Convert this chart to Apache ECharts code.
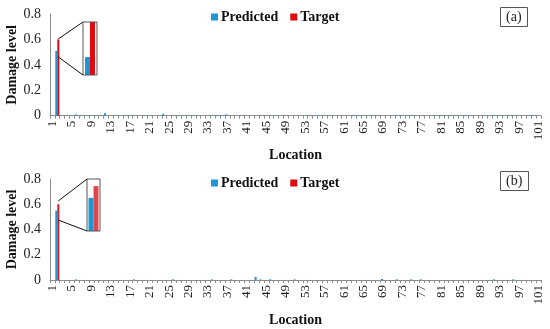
<!DOCTYPE html>
<html><head><meta charset="utf-8">
<script src="https://cdn.jsdelivr.net/npm/echarts@6/dist/echarts.min.js"></script>
<style>html,body{margin:0;padding:0;background:#fff}#c{width:550px;height:329px}</style>
</head><body><div id="c"></div>
<script>
const locations = [];
for (let i = 1; i <= 101; i++) locations.push(String(i));

const predictedA = [
 0,0.51,0.005,0,0.005,0.01,0.005,0,0.005,0.005,
 0.005,0.02,0,0.005,0,0.005,0.005,0,0,0.005,
 0,0,0,0.015,0,0,0.005,0,0.005,0,
 0.005,0,0,0.005,0.005,0.005,0.01,0,0,0,
 0,0,0,0,0.005,0,0.005,0,0,0,
 0,0,0,0.005,0,0.005,0.005,0,0.005,0,
 0,0,0.005,0.005,0.005,0,0.005,0,0,0,
 0.005,0.005,0.005,0.005,0.005,0.005,0,0,0,0.005,
 0.005,0.005,0.005,0,0.005,0.005,0.005,0,0,0.005,
 0,0.005,0.005,0.005,0.005,0.005,0,0,0.005,0.005,
 0];
const targetA = [
 0,0.60,0,0,0,0,0,0,0,0,
 0,0,0,0,0,0,0,0,0,0,
 0,0,0,0,0,0,0,0,0,0,
 0,0,0,0,0,0,0,0,0,0,
 0,0,0,0,0,0,0,0,0,0,
 0,0,0,0,0,0,0,0,0,0,
 0,0,0,0,0,0,0,0,0,0,
 0,0,0,0,0,0,0,0,0,0,
 0,0,0,0,0,0,0,0,0,0,
 0,0,0,0,0,0,0,0,0,0,
 0];
const predictedB = [
 0,0.55,0,0,0,0.005,0,0,0,0,
 0,0,0,0,0,0,0,0.005,0,0,
 0,0,0,0,0,0.005,0,0,0,0,
 0,0,0,0.005,0,0,0,0.005,0,0,
 0,0,0.025,0.005,0,0.005,0,0,0,0,
 0.005,0,0,0,0,0,0,0,0,0,
 0,0,0,0,0,0,0,0,0.008,0,
 0,0.005,0,0,0.005,0,0.005,0,0,0,
 0,0,0,0,0,0,0,0,0,0,
 0,0.005,0,0,0,0.005,0,0,0,0,
 0];
const targetB = [
 0,0.60,0,0,0,0,0,0,0,0,
 0,0,0,0,0,0,0,0,0,0,
 0,0,0,0,0,0,0,0,0,0,
 0,0,0,0,0,0,0,0,0,0,
 0,0,0,0,0,0,0,0,0,0,
 0,0,0,0,0,0,0,0,0,0,
 0,0,0,0,0,0,0,0,0,0,
 0,0,0,0,0,0,0,0,0,0,
 0,0,0,0,0,0,0,0,0,0,
 0,0,0,0,0,0,0,0,0,0,
 0];
const yTicks = [0, 0.2, 0.4, 0.6, 0.8];
const panelLabels = ['(a)', '(b)'];
const zoomLoc = '2';
const insetRangeA = [0.464, 0.60];
const insetRangeB = [0.41, 0.63];
const zoomLinesA = [0.462, 0.604];
const zoomLinesB = [0.475, 0.626];

const BLUE = '#1e96d4', RED = '#e3070f';
const FONT = 'Liberation Serif';
const AX = '#8c8c8c';

function mainX(gi) {
  return {
    type: 'category', gridIndex: gi, data: locations, boundaryGap: true,
    axisLine: {lineStyle: {color: AX}},
    axisTick: {show: true, interval: 0, length: 3, lineStyle: {color: AX}},
    axisLabel: {interval: 3, rotate: 90, fontFamily: FONT, fontSize: 13, color: '#222', margin: 5},
    name: 'Location', nameLocation: 'middle', nameGap: 33, nameMoveOverlap: false,
    nameTextStyle: {fontFamily: FONT, fontSize: 14, fontWeight: 'bold', color: '#111'}
  };
}
function mainY(gi) {
  return {
    type: 'value', gridIndex: gi, min: yTicks[0], max: yTicks[yTicks.length-1], interval: 0.2,
    splitLine: {show: false},
    axisLine: {show: true, lineStyle: {color: AX}},
    axisTick: {show: false},
    axisLabel: {fontFamily: FONT, fontSize: 14, color: '#222', margin: 9,
      formatter: v => String(Math.round(v*10)/10)},
    name: 'Damage level', nameLocation: 'middle', nameGap: 31, nameMoveOverlap: false,
    nameTextStyle: {fontFamily: FONT, fontSize: 14, fontWeight: 'bold', color: '#111'}
  };
}
function insetX(gi) {
  return {type: 'category', gridIndex: gi, data: [zoomLoc], show: false};
}
function insetY(gi, r) {
  return {type: 'value', gridIndex: gi, min: r[0], max: r[1], show: false, splitLine: {show: false}};
}
const idx = locations.indexOf(zoomLoc);

const chart = echarts.init(document.getElementById('c'), null, {renderer: 'canvas'});
const option = {
  animation: false,
  backgroundColor: '#fff',
  title: [
    {text: panelLabels[0], left: 500, top: 7, padding: [3, 6, 3, 6], borderColor: '#555', borderWidth: 1,
     textStyle: {fontFamily: FONT, fontSize: 14, fontWeight: 'normal', color: '#222'}},
    {text: panelLabels[1], left: 500, top: 171, padding: [3, 6, 3, 6], borderColor: '#555', borderWidth: 1,
     textStyle: {fontFamily: FONT, fontSize: 14, fontWeight: 'normal', color: '#222'}}
  ],
  legend: [
    {data: ['Predicted', 'Target'], left: 209, top: 8, padding: 2, icon: 'rect', itemWidth: 7, itemHeight: 7, itemGap: 12,
     textStyle: {fontFamily: FONT, fontSize: 14, fontWeight: 'bold', color: '#111', padding: [0,0,0,-2]}},
    {data: ['Predicted', 'Target'], left: 209, top: 174, padding: 2, icon: 'rect', itemWidth: 7, itemHeight: 7, itemGap: 12,
     textStyle: {fontFamily: FONT, fontSize: 14, fontWeight: 'bold', color: '#111', padding: [0,0,0,-2]}}
  ],
  grid: [
    {left: 50, right: 9, top: 14, height: 101.7, outerBoundsMode: 'none', containLabel: false},
    {left: 83, top: 22, width: 14, height: 53, show: true, borderColor: '#555', borderWidth: 1, backgroundColor: 'transparent', z: 5, outerBoundsMode: 'none', containLabel: false},
    {left: 50, right: 9, top: 179, height: 101, outerBoundsMode: 'none', containLabel: false},
    {left: 87, top: 179, width: 13, height: 52, show: true, borderColor: '#555', borderWidth: 1, backgroundColor: 'transparent', z: 5, outerBoundsMode: 'none', containLabel: false}
  ],
  xAxis: [mainX(0), insetX(1), mainX(2), insetX(3)],
  yAxis: [mainY(0), insetY(1, insetRangeA), mainY(2), insetY(3, insetRangeB)],
  series: [
    {name: 'Predicted', type: 'bar', xAxisIndex: 0, yAxisIndex: 0, data: predictedA, barWidth: 2, barGap: '0%', itemStyle: {color: BLUE}},
    {name: 'Target', type: 'bar', xAxisIndex: 0, yAxisIndex: 0, data: targetA, barWidth: 2, barGap: '0%', itemStyle: {color: RED}},
    {name: 'Predicted', type: 'bar', xAxisIndex: 2, yAxisIndex: 2, data: predictedB, barWidth: 2, barGap: '0%', itemStyle: {color: BLUE}},
    {name: 'Target', type: 'bar', xAxisIndex: 2, yAxisIndex: 2, data: targetB, barWidth: 2, barGap: '0%', itemStyle: {color: '#e31a22'}},
    {name: 'Predicted', type: 'bar', xAxisIndex: 1, yAxisIndex: 1, data: [predictedA[idx]], barWidth: 5, barGap: '0%', itemStyle: {color: BLUE}, z: 4},
    {name: 'Target', type: 'bar', xAxisIndex: 1, yAxisIndex: 1, data: [targetA[idx]], barWidth: 5, barGap: '0%', itemStyle: {color: RED}, z: 4},
    {name: 'Predicted', type: 'bar', xAxisIndex: 3, yAxisIndex: 3, data: [predictedB[idx]], barWidth: 5, barGap: '0%', itemStyle: {color: BLUE}, z: 4},
    {name: 'Target', type: 'bar', xAxisIndex: 3, yAxisIndex: 3, data: [targetB[idx]], barWidth: 5, barGap: '0%', itemStyle: {color: '#e0474c'}, z: 4}
  ]
};
chart.setOption(option);

function lines(mainGi, insetGi, zl) {
  const out = [];
  const r = insetGi === 1 ? insetRangeA : insetRangeB;
  const pTop = chart.convertToPixel({xAxisIndex: mainGi, yAxisIndex: mainGi}, [zoomLoc, zl[1]]);
  const pBot = chart.convertToPixel({xAxisIndex: mainGi, yAxisIndex: mainGi}, [zoomLoc, zl[0]]);
  const iTop = chart.convertToPixel({xAxisIndex: insetGi, yAxisIndex: insetGi}, [zoomLoc, r[1]]);
  const iBot = chart.convertToPixel({xAxisIndex: insetGi, yAxisIndex: insetGi}, [zoomLoc, r[0]]);
  const rect = chart.getModel().getComponent('grid', insetGi).coordinateSystem.getRect();
  const x0 = pTop[0] + 1, x1 = rect.x;
  out.push({type: 'line', shape: {x1: x0, y1: pTop[1], x2: x1, y2: iTop[1]}, style: {stroke: '#111', lineWidth: 1}, z: 10});
  out.push({type: 'line', shape: {x1: x0, y1: pBot[1], x2: x1, y2: iBot[1]}, style: {stroke: '#111', lineWidth: 1}, z: 10});
  return out;
}
chart.setOption({graphic: lines(0, 1, zoomLinesA).concat(lines(2, 3, zoomLinesB))});
</script>
</body></html>
